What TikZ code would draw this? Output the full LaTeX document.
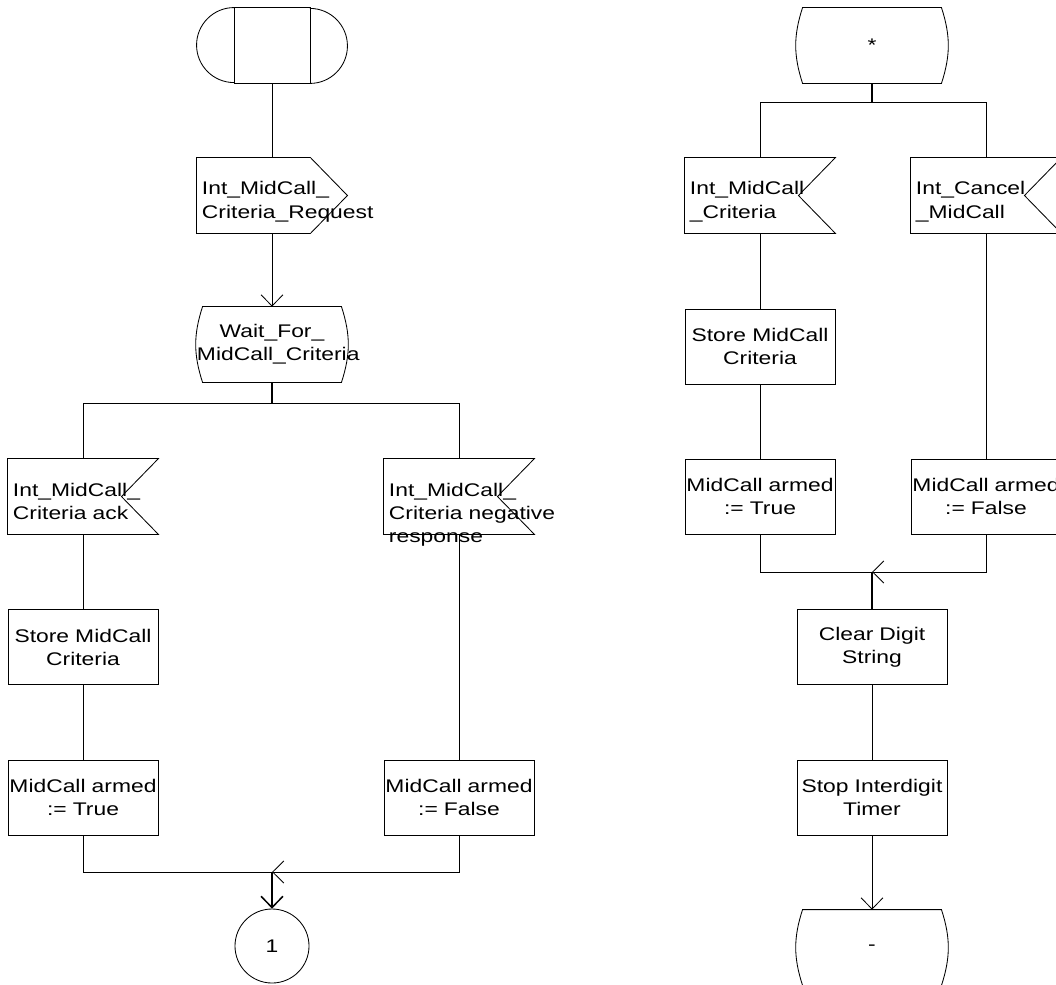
\documentclass[tikz,border=0pt]{standalone}
\usepackage{fontspec}
\setmainfont{Liberation Sans}[FakeStretch=1.25]
\usepackage{tikz}
\usetikzlibrary{arrows.meta}
\tikzstyle{task} = [rectangle, draw, text width=3.75cm, minimum height=1.875cm, inner sep=0pt, align=center]
\tikzstyle{state} = [rectangle, text width=3.75cm, minimum height=1.875cm, inner sep=0pt, align=center,
  append after command={\pgfextra{\draw ([xshift=0.15cm]\tikzlastnode.north west) to[bend right=18] ([xshift=0.15cm]\tikzlastnode.south west) -- ([xshift=-0.15cm]\tikzlastnode.south east) to[bend right=18] ([xshift=-0.15cm]\tikzlastnode.north east) -- cycle;}}]
\tikzstyle{insig} = [rectangle, text width=3.5cm, inner xsep=0.125cm, inner ysep=0pt, text height=0.925cm, text depth=0.95cm, align=left,
  append after command={\pgfextra{\draw (\tikzlastnode.north west) -- (\tikzlastnode.north east) -- ([xshift=-0.925cm]\tikzlastnode.east) -- (\tikzlastnode.south east) -- (\tikzlastnode.south west) -- cycle;}}]
\tikzstyle{outsig} = [rectangle, text width=3.5cm, inner xsep=0.125cm, inner ysep=0pt, text height=0.925cm, text depth=0.95cm, align=left,
  append after command={\pgfextra{\draw (\tikzlastnode.north west) -- ([xshift=-0.925cm]\tikzlastnode.north east) -- (\tikzlastnode.east) -- ([xshift=-0.925cm]\tikzlastnode.south east) -- (\tikzlastnode.south west) -- cycle;}}]
\tikzstyle{startsym} = [rectangle, minimum width=3.75cm, minimum height=1.875cm, inner sep=0pt,
  append after command={\pgfextra{\draw ([xshift=0.9375cm]\tikzlastnode.north west) rectangle ([xshift=-0.9375cm]\tikzlastnode.south east);
    \draw ([xshift=0.9375cm]\tikzlastnode.north west) arc[start angle=90, end angle=270, radius=0.9375cm];
    \draw ([xshift=-0.9375cm]\tikzlastnode.south east) arc[start angle=-90, end angle=90, radius=0.9375cm];}}]
\tikzstyle{conn} = [circle, draw, minimum size=1.85cm, inner sep=0pt]
\tikzstyle{flow} = [draw]
\tikzstyle{stem} = [draw, line width=1.1pt]
\tikzstyle{connector} = [draw, -{Straight Barb[length=0.28cm, width=0.55cm]}]

\begin{document}
\begin{tikzpicture}[x=0.025cm, y=-0.025cm, line width=0.6pt, font=\fontsize{13}{16.4}\selectfont]
        \useasboundingbox (0,0) rectangle (1056,984);
        \clip (0,0) rectangle (1056,984);

        % left process
        \node [startsym] at (272,45.5) (start) {};
        \node [outsig] at (272,195.5) (request) {Int\_MidCall\_\\Criteria\_Request};
        \node [state] at (272,344.5) (wait) {Wait\_For\_\\MidCall\_Criteria};
        \coordinate (split1) at (272,403);
        \node [insig] at (83,496.5) (ack) {Int\_MidCall\_\\Criteria ack};
        \node [insig] at (459,496.5) (nack) {Int\_MidCall\_\\\mbox{Criteria negative}\\response};
        \node [task] at (83,647) (store1) {Store MidCall\\Criteria};
        \node [task] at (83,797.5) (armtrue1) {MidCall armed\\:= True};
        \node [task] at (459,797.5) (armfalse1) {MidCall armed\\:= False};
        \coordinate (join1) at (272,872);
        \node [conn] at (272,946) (out1) {1};

        % right process
        \node [state] at (872,45.5) (any) {*};
        \coordinate (split2) at (872,102);
        \node [insig] at (760,195.5) (criteria) {Int\_MidCall\\\_Criteria};
        \node [insig] at (986,195.5) (cancel) {Int\_Cancel\\\_MidCall};
        \node [task] at (760,346.5) (store2) {Store MidCall\\Criteria};
        \node [task] at (760,496.5) (armtrue2) {MidCall armed\\:= True};
        \node [task] at (986,496.5) (armfalse2) {MidCall armed\\:= False};
        \coordinate (join2) at (872,572);
        \node [task] at (872,647) (clear) {Clear Digit\\String};
        \node [task] at (872,797.5) (stop) {Stop Interdigit\\Timer};
        \node [state] at (872,947.5) (same) {-};

        \path [flow] (start) -- (request);
        \path [connector] (request) -- (wait);
        \path [stem] (wait) -- (split1);
        \path [flow] (split1) -| (ack);
        \path [flow] (split1) -| (nack);
        \path [flow] (ack) -- (store1);
        \path [flow] (store1) -- (armtrue1);
        \path [flow] (nack) -- (armfalse1);
        \path [flow] (armtrue1) |- (join1);
        \path [connector] (armfalse1) |- (join1);
        \path [connector, line width=1.1pt] (join1) -- (out1);

        \path [stem] (any) -- (split2);
        \path [flow] (split2) -| (criteria);
        \path [flow] (split2) -| (cancel);
        \path [flow] (criteria) -- (store2);
        \path [flow] (store2) -- (armtrue2);
        \path [flow] (cancel) -- (armfalse2);
        \path [flow] (armtrue2) |- (join2);
        \path [connector] (armfalse2) |- (join2);
        \path [stem] (join2) -- (clear);
        \path [flow] (clear) -- (stop);
        \path [connector] (stop) -- (same);
    \end{tikzpicture}
\end{document}
